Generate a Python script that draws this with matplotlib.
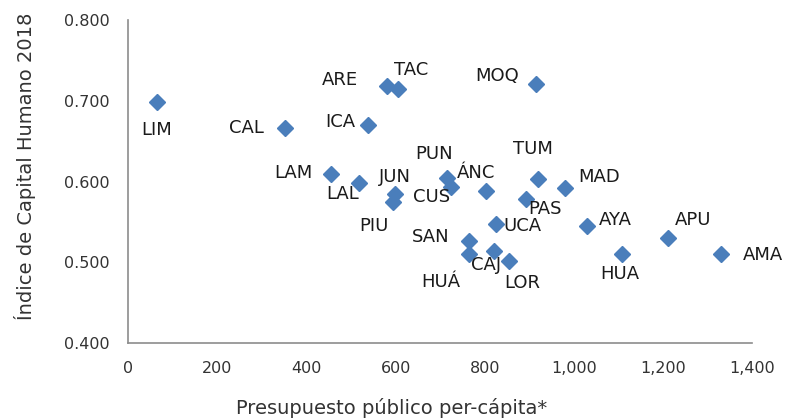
import numpy as np
import matplotlib
matplotlib.use('Agg')
import matplotlib.pyplot as plt
from matplotlib.ticker import FuncFormatter

plt.rcParams['font.family'] = ['DejaVu Sans']

regiones = ['LIM', 'CAL', 'ARE', 'TAC', 'MOQ', 'ICA', 'LAM', 'LAL', 'JUN', 'PIU',
            'PUN', 'CUS', 'ÁNC', 'TUM', 'MAD', 'PAS', 'UCA', 'AYA', 'SAN', 'HUÁ',
            'CAJ', 'LOR', 'HUA', 'APU', 'AMA']
presupuesto = [65, 352, 580, 606, 915, 538, 455, 518, 598, 594,
               715, 724, 802, 920, 981, 892, 826, 1030, 764, 764,
               820, 855, 1108, 1210, 1330]
capital = [0.698, 0.667, 0.719, 0.715, 0.721, 0.670, 0.609, 0.598, 0.585, 0.575,
           0.605, 0.593, 0.589, 0.603, 0.592, 0.579, 0.547, 0.545, 0.527, 0.511,
           0.514, 0.502, 0.510, 0.530, 0.510]
# label offsets in pixels from the marker
off = [(0, -28), (-39, 0), (-47, 6), (13, 19), (-39, 8), (-28, 3), (-38, 1), (-16, -11),
       (0, 17), (-19, -24), (-13, 24), (-19, -10), (-10, 18), (-5, 30), (34, 11),
       (19, -10), (26, -2), (28, 6), (-38, 4), (-28, -28), (-8, -14), (13, -22),
       (-2, -20), (26, 18), (42, -1)]

fig = plt.figure(figsize=(7.91, 4.19), dpi=100)
ax = fig.add_axes([0.162, 0.181, 0.789, 0.771])

ax.plot(presupuesto, capital, linestyle='none', marker='D', markersize=8.3,
        color='#4a7ebb', zorder=3)
for r, x, y, (dx, dy) in zip(regiones, presupuesto, capital, off):
    ax.annotate(r, (x, y), xytext=(dx, dy), textcoords='offset pixels',
                ha='center', va='center', fontsize=13, color='#1a1a1a')

ax.set_xlim(0, 1400)
ax.set_ylim(0.4, 0.8)
ax.set_xticks(np.arange(0, 1401, 200))
ax.set_yticks(np.arange(0.4, 0.801, 0.1))
ax.xaxis.set_major_formatter(FuncFormatter(lambda v, p: f'{v:,.0f}'))
ax.yaxis.set_major_formatter(FuncFormatter(lambda v, p: f'{v:.3f}'))
ax.tick_params(length=0, labelsize=11.5, colors='#333333')
ax.tick_params(axis='x', pad=13)
ax.tick_params(axis='y', pad=13)
for s in ['top', 'right']:
    ax.spines[s].set_visible(False)
for s in ['left', 'bottom']:
    ax.spines[s].set_color('#8c8c8c')
    ax.spines[s].set_linewidth(1.2)

fig.text(0.4956, 0.026, 'Presupuesto público per-cápita*', fontsize=14,
         color='#333333', ha='center', va='center')
fig.text(0.032, 0.604, 'Índice de Capital Humano 2018', fontsize=14,
         color='#333333', ha='center', va='center', rotation=90)

fig.savefig('out.png', dpi=100)
